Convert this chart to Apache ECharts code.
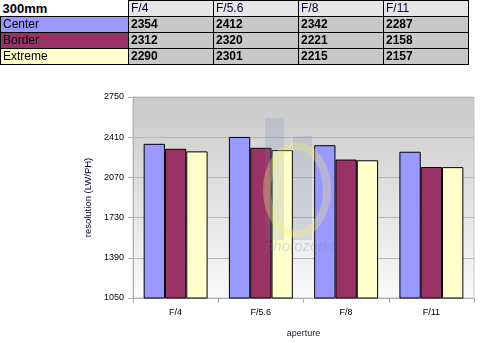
<!DOCTYPE html>
<html>
<head>
<meta charset="utf-8">
<script src="https://cdn.jsdelivr.net/npm/echarts@6/dist/echarts.min.js"></script>
<style>
  html, body { margin: 0; padding: 0; background: #fff; }
  #wrap { position: relative; width: 480px; height: 343px; overflow: hidden; }
  #chart { position: absolute; left: 0; top: 0; width: 480px; height: 343px; }
  #tbl { position: absolute; left: 0; top: 0; border-collapse: collapse; table-layout: fixed;
         font-family: Arial, "Liberation Sans", sans-serif; font-size: 12px; z-index: 2; }
  #tbl td { height: 15px; padding: 0 0 0 2px; line-height: 15px; border: 1px solid #000;
            white-space: nowrap; overflow: hidden; box-sizing: border-box; }
  #tbl td.corner { border: none; background: #fff; font-weight: bold; font-size: 13px; }
  #tbl td.head { background: #e6e6e6; color: #000033; }
  #tbl td.val { background: #c8c8c8; font-weight: bold; }
</style>
</head>
<body>
<div id="wrap">
  <table id="tbl"></table>
  <div id="chart"></div>
</div>
<script>
// lens focal length and test apertures
const focal = '300mm';
const apertures = ['F/4', 'F/5.6', 'F/8', 'F/11'];

// resolution in LW/PH per image zone
const seriesNames = ['Center', 'Border', 'Extreme'];
const centerVals = [2354, 2412, 2342, 2287];
const borderVals = [2312, 2320, 2221, 2158];
const extremeVals = [2290, 2301, 2215, 2157];
const zoneColors = ['#9999ff', '#993366', '#ffffcc'];

// value axis range and step
const yMin = 1050;
const yMax = 2750;
const yStep = 340;

const allVals = [centerVals, borderVals, extremeVals];

// summary table above the chart
(function buildTable() {
  const tbl = document.getElementById('tbl');
  const widths = [128, 85, 85, 85, 85];
  const cg = document.createElement('colgroup');
  widths.forEach(w => { const c = document.createElement('col'); c.style.width = w + 'px'; cg.appendChild(c); });
  tbl.appendChild(cg);
  const hr = document.createElement('tr');
  const corner = document.createElement('td');
  corner.className = 'corner'; corner.textContent = focal; hr.appendChild(corner);
  apertures.forEach(a => { const td = document.createElement('td'); td.className = 'head'; td.textContent = a; hr.appendChild(td); });
  tbl.appendChild(hr);
  seriesNames.forEach((n, i) => {
    const tr = document.createElement('tr');
    const lab = document.createElement('td');
    lab.textContent = n; lab.style.background = zoneColors[i];
    tr.appendChild(lab);
    allVals[i].forEach(v => { const td = document.createElement('td'); td.className = 'val'; td.textContent = v; tr.appendChild(td); });
    tbl.appendChild(tr);
  });
  tbl.style.width = widths.reduce((a, b) => a + b, 0) + 'px';
})();

const chart = echarts.init(document.getElementById('chart'), null, { renderer: 'canvas' });
const font = 'Arial, "Liberation Sans", sans-serif';
const markTint = 'rgba(110,130,170,0.2)';

chart.setOption({
  animation: false,
  grid: {
    left: 133, right: 6, top: 97, bottom: 42,
    show: true, borderColor: '#c4c4c4', borderWidth: 1,
    backgroundColor: new echarts.graphic.LinearGradient(0, 0, 0, 1, [
      { offset: 0, color: '#c9c9c9' },
      { offset: 1, color: '#fafafa' }
    ])
  },
  xAxis: {
    type: 'category',
    data: apertures,
    name: 'aperture',
    nameLocation: 'middle',
    nameGap: 31,
    nameTextStyle: { fontFamily: font, fontSize: 9, color: '#1a1a33' },
    axisLine: { lineStyle: { color: '#b0b0b0', width: 1 } },
    axisTick: { show: true, alignWithLabel: false, length: 5, lineStyle: { color: '#b0b0b0' } },
    axisLabel: { fontFamily: font, fontSize: 9, color: '#000', margin: 10 },
    splitLine: { show: false }
  },
  yAxis: {
    type: 'value',
    min: yMin, max: yMax, interval: yStep,
    name: 'resolution (LW/PH)',
    nameLocation: 'middle',
    nameGap: 36,
    nameTextStyle: { fontFamily: font, fontSize: 9.5, color: '#000033' },
    axisLine: { show: true, lineStyle: { color: '#b0b0b0', width: 1 } },
    axisTick: { show: true, length: 5, lineStyle: { color: '#b0b0b0' } },
    axisLabel: { fontFamily: font, fontSize: 9, color: '#000', margin: 9, formatter: v => String(v) },
    splitLine: { show: true, lineStyle: { color: '#b4b4b4', width: 1 } }
  },
  series: seriesNames.map((n, i) => ({
    name: n,
    type: 'bar',
    data: allVals[i],
    barGap: '0%',
    barCategoryGap: '25%',
    itemStyle: { color: zoneColors[i], borderColor: '#000', borderWidth: 1 }
  })),
  // translucent site logo laid over the plot
  graphic: [
    { type: 'rect', z: 100, silent: true, shape: { x: 265, y: 118, width: 19, height: 122 }, style: { fill: markTint } },
    { type: 'rect', z: 100, silent: true, shape: { x: 293, y: 136, width: 19, height: 104 }, style: { fill: markTint } },
    { type: 'ellipse', z: 101, silent: true, shape: { cx: 297, cy: 190, rx: 30, ry: 44 }, style: { fill: 'none', stroke: 'rgba(245,235,130,0.32)', lineWidth: 8 } },
    { type: 'text', z: 101, silent: true, x: 300, y: 247, style: { text: 'photozone', fontFamily: font, fontSize: 15, fontStyle: 'italic', fill: 'rgba(110,130,170,0.25)', align: 'center', verticalAlign: 'middle' } }
  ]
});
</script>
</body>
</html>
